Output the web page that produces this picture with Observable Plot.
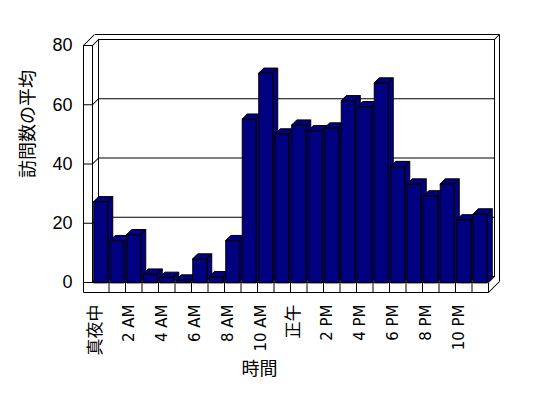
<!DOCTYPE html>
<html>
<head>
<meta charset="utf-8">
<script src="https://cdn.jsdelivr.net/npm/d3@7"></script>
<script src="https://cdn.jsdelivr.net/npm/@observablehq/plot@0.6"></script>
<style>
  html, body { margin: 0; padding: 0; background: #fff; }
  #chart svg { display: block; }
</style>
</head>
<body>
<div id="chart"></div>
<script>
// ---- data ----
const hours = [0,1,2,3,4,5,6,7,8,9,10,11,12,13,14,15,16,17,18,19,20,21,22,23];
const visits = [27.3, 14.2, 16.2, 2.9, 1.8, 0.9, 8.0, 2.0, 14.2, 55.2, 70.7, 50.2,
                53.2, 51.3, 52.2, 61.4, 59.4, 67.4, 39.2, 33.3, 29.3, 33.3, 21.2, 23.2];
const tickHours = [0, 2, 4, 6, 8, 10, 12, 14, 16, 18, 20, 22];
const tickLabels = ["真夜中", "2 AM", "4 AM", "6 AM", "8 AM", "10 AM", "正午", "2 PM", "4 PM", "6 PM", "8 PM", "10 PM"];
const yTicks = [0, 20, 40, 60, 80];
const gridValues = [20, 40, 60];
const yTitle = "訪問数の平均";
const xTitle = "時間";

// ---- layout ----
const W = 548, H = 398;
const mL = 92, mR = 60, mT = 45, mB = 116;
const L = mL, R = W - mR, T = mT, B = H - mB;
const padIn = 0.15, padOut = 0.075;
const xs = Plot.scale({x: {type: "band", domain: hours, range: [L, R], paddingInner: padIn, paddingOuter: padOut, round: false}});
const bw = xs.bandwidth, step = xs.step;
const depth = 5;       // bar depth
const wall = 6;        // wall depth offset
const thick = 9;       // wall / floor thickness
const outer = 11;      // outer back-wall offset
const S2 = Math.SQRT2;
const font = "'Liberation Sans', 'Noto Sans CJK JP', sans-serif";
const labelFont = "'DejaVu Sans', 'Noto Sans CJK JP', sans-serif";

const lineShape = {draw(ctx, l) { ctx.moveTo(0, 0); ctx.lineTo(0, -l); }};
const boxShape = {draw(ctx, l) {
  const a = -bw / 2, b = bw / 2, d = depth;
  ctx.moveTo(a, 0); ctx.lineTo(a, -l); ctx.lineTo(b, -l); ctx.lineTo(b, 0); ctx.closePath();
  ctx.moveTo(a, -l); ctx.lineTo(a + d, -l - d); ctx.lineTo(b + d, -l - d); ctx.lineTo(b, -l); ctx.closePath();
  ctx.moveTo(b, 0); ctx.lineTo(b, -l); ctx.lineTo(b + d, -l - d); ctx.lineTo(b + d, -d); ctx.closePath();
}};
const segStyle = {anchor: "start", shape: lineShape, stroke: "black", strokeWidth: 1, strokeLinecap: "butt"};
const seg = (frameAnchor, dx, dy, rotate, length) =>
  Plot.vector([0], {frameAnchor, dx, dy, rotate, length, ...segStyle});

const chart = Plot.plot({
  width: W, height: H,
  marginLeft: mL, marginRight: mR, marginTop: mT, marginBottom: mB,
  style: {fontFamily: font, background: "#fff", color: "black"},
  x: {type: "band", domain: hours, paddingInner: padIn, paddingOuter: padOut, round: false, axis: null},
  y: {domain: [0, 80], axis: null},
  length: {type: "linear", domain: [0, 80], range: [0, B - T]},
  marks: [
    // back wall
    Plot.frame({dx: wall, dy: -wall, stroke: "black"}),
    Plot.ruleY(gridValues, {dx: wall, dy: -wall, stroke: "black"}),
    Plot.ruleY([80], {dx: outer, dy: -outer, insetLeft: -thick + 1, stroke: "black"}),
    seg("bottom-right", outer, -1, 0, B - T + outer - 1),
    seg("top-right", wall, -wall, 45, (outer - wall) * S2),
    // left wall
    seg("bottom-left", 0, 0, 0, B - T),
    seg("bottom-left", -thick, thick + 1, 0, B - T + thick + 1),
    seg("top-left", -thick, 0, 90, thick),
    seg("top-left", -thick, 0, 45, outer * S2),
    seg("top-left", 0, 0, 45, wall * S2),
    Plot.vector(yTicks, {y: d => d, frameAnchor: "left", dx: -thick, rotate: 90, length: thick, ...segStyle}),
    Plot.vector([0, 20, 40, 60], {y: d => d, frameAnchor: "left", rotate: 45, length: wall * S2, ...segStyle}),
    // floor back-right corner
    seg("bottom-right", 0, 0, 45, wall * S2),
    // bars
    Plot.vector(hours, {
      x: d => d, y: () => 0, length: (d, i) => visits[i],
      anchor: "start", shape: boxShape,
      fill: "#000080", stroke: "black", strokeWidth: 1, strokeLinejoin: "miter"
    }),
    // floor front
    Plot.ruleY([0], {stroke: "black"}),
    seg("bottom-left", -thick, thick + 1, 90, R - L + thick),
    Plot.vector(hours.slice(1), {x: d => d, frameAnchor: "bottom", dx: -step / 2, dy: thick + 1, rotate: 0, length: thick + 1, ...segStyle}),
    seg("bottom-right", 0, thick + 1, 0, thick + 1),
    seg("bottom-right", 0, thick + 1, 45, outer * S2),
    // labels
    Plot.text(yTicks, {y: d => d, text: d => String(d), frameAnchor: "left", dx: -20, textAnchor: "end", fontSize: 18, fill: "black"}),
    Plot.text(tickHours, {
      x: d => d, text: (d, i) => tickLabels[i], frameAnchor: "bottom", dy: 22,
      rotate: -90, textAnchor: "end", fontFamily: labelFont,
      fontSize: (d, i) => /[A-Z0-9]/.test(tickLabels[i]) ? 15 : 17, fill: "black"
    }),
    Plot.text([yTitle], {frameAnchor: "left", dx: -64, dy: 14, rotate: -90, fontSize: 18, fill: "black"}),
    Plot.text([xTitle], {frameAnchor: "bottom", dx: -31, dy: 92, fontSize: 18, fill: "black"})
  ]
});
document.getElementById("chart").appendChild(chart);
</script>
</body>
</html>
